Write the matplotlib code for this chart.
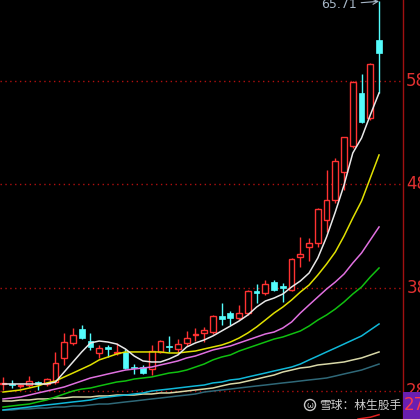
import matplotlib
matplotlib.use('Agg')
import matplotlib.pyplot as plt
from matplotlib.patches import Rectangle, Circle

plt.rcParams['font.family'] = ['DejaVu Sans']

# daily k-line
opens = [28.67, 28.67, 28.48, 28.57, 28.86, 28.67, 28.86, 31.19, 32.64, 33.99,
         32.83, 31.67, 32.25, 31.67, 31.77, 30.31, 30.31, 30.12, 31.77, 32.35,
         32.06, 32.64, 33.41, 33.61, 33.70, 35.25, 35.54, 35.06, 35.54, 37.67,
         37.48, 38.54, 38.16, 37.77, 40.96, 41.93, 42.32, 44.55, 46.48, 49.19,
         51.71, 56.84, 54.42, 61.97]
closes = [28.77, 28.57, 28.57, 28.96, 28.67, 29.15, 30.70, 32.73, 33.41, 33.12,
          32.25, 32.15, 32.06, 31.77, 30.22, 30.22, 29.73, 31.86, 32.83, 32.25,
          32.54, 33.12, 33.51, 33.90, 35.25, 34.96, 35.06, 35.54, 37.67, 37.48,
          38.35, 37.77, 37.96, 40.77, 41.25, 42.32, 45.61, 46.48, 50.26, 52.58,
          57.90, 54.03, 59.65, 60.71]
highs = [29.35, 29.06, 28.67, 29.44, 28.96, 29.25, 31.77, 33.61, 34.09, 34.38,
         33.61, 32.44, 32.44, 32.64, 32.06, 30.60, 30.51, 32.44, 32.93, 33.32,
         33.02, 33.80, 34.09, 34.19, 35.35, 36.51, 35.74, 36.32, 37.77, 38.35,
         38.74, 38.74, 38.45, 40.87, 42.90, 42.80, 45.71, 49.39, 50.55, 52.58,
         58.00, 58.68, 59.74, 65.71]
lows = [28.09, 28.28, 28.28, 28.38, 28.09, 28.48, 28.67, 30.51, 32.44, 33.02,
        31.96, 31.19, 31.28, 31.48, 30.12, 29.64, 29.64, 29.54, 31.67, 31.77,
        31.67, 32.35, 32.83, 32.73, 33.51, 34.38, 34.38, 34.86, 35.35, 36.51,
        37.28, 37.67, 36.61, 37.67, 39.99, 40.58, 41.93, 43.38, 46.19, 47.45,
        51.51, 53.93, 54.23, 56.84]

# moving averages
ma5 = [28.67, 28.67, 28.67, 28.67, 28.67, 28.67, 28.86, 29.83, 30.80, 31.77,
       32.64, 32.83, 32.73, 32.54, 32.06, 31.38, 30.90, 30.80, 30.80, 31.09,
       31.48, 32.25, 32.64, 32.93, 33.32, 33.80, 34.28, 34.77, 35.35, 36.12,
       36.70, 36.99, 37.38, 38.06, 38.64, 39.41, 40.87, 42.90, 45.32, 47.93,
       51.03, 52.48, 54.71, 56.84]
ma10 = [27.89, 27.99, 28.09, 28.28, 28.48, 28.77, 28.96, 29.35, 29.73, 30.12,
        30.51, 31.00, 31.28, 31.57, 31.77, 31.77, 31.77, 31.77, 31.77, 31.67,
        31.67, 31.77, 31.86, 32.06, 32.25, 32.44, 32.73, 33.12, 33.61, 34.19,
        34.86, 35.54, 36.12, 36.80, 37.57, 38.25, 39.22, 40.28, 41.45, 43.00,
        44.74, 46.38, 48.61, 50.84]
ma20 = [27.22, 27.31, 27.41, 27.60, 27.80, 27.99, 28.18, 28.38, 28.67, 28.96,
        29.25, 29.44, 29.64, 29.83, 30.02, 30.12, 30.22, 30.31, 30.51, 30.70,
        30.90, 31.19, 31.38, 31.67, 31.96, 32.15, 32.35, 32.64, 32.93, 33.22,
        33.51, 33.70, 34.09, 34.67, 35.54, 36.32, 37.09, 37.86, 38.54, 39.32,
        40.38, 41.35, 42.61, 43.87]
ma30 = [26.44, 26.54, 26.64, 26.73, 26.93, 27.12, 27.41, 27.70, 27.99, 28.18,
        28.28, 28.48, 28.67, 28.86, 28.96, 29.15, 29.25, 29.35, 29.54, 29.73,
        29.83, 30.02, 30.31, 30.60, 31.00, 31.28, 31.48, 31.86, 32.15, 32.44,
        32.73, 33.02, 33.22, 33.51, 33.80, 34.28, 34.86, 35.35, 35.93, 36.61,
        37.38, 38.06, 39.03, 39.90]
ma60 = [26.15, 26.25, 26.34, 26.44, 26.54, 26.64, 26.73, 26.83, 26.93, 27.02,
        27.12, 27.31, 27.41, 27.51, 27.60, 27.70, 27.80, 27.99, 28.09, 28.18,
        28.28, 28.38, 28.48, 28.57, 28.77, 28.86, 29.06, 29.15, 29.35, 29.54,
        29.73, 29.93, 30.12, 30.31, 30.60, 31.00, 31.38, 31.77, 32.15, 32.54,
        32.93, 33.32, 33.90, 34.48]
ma120 = [27.02, 27.02, 27.12, 27.12, 27.22, 27.22, 27.31, 27.31, 27.41, 27.41,
         27.41, 27.51, 27.51, 27.60, 27.60, 27.60, 27.70, 27.70, 27.80, 27.80,
         27.89, 27.99, 28.09, 28.18, 28.28, 28.48, 28.67, 28.77, 28.96, 29.15,
         29.35, 29.54, 29.83, 30.02, 30.22, 30.31, 30.51, 30.60, 30.70, 30.80,
         31.00, 31.19, 31.48, 31.77]
ma250 = [26.15, 26.15, 26.25, 26.25, 26.34, 26.34, 26.44, 26.44, 26.54, 26.54,
         26.64, 26.73, 26.73, 26.83, 26.93, 27.02, 27.12, 27.22, 27.31, 27.41,
         27.51, 27.60, 27.70, 27.89, 27.99, 28.09, 28.18, 28.28, 28.38, 28.48,
         28.57, 28.67, 28.77, 28.86, 28.96, 29.06, 29.15, 29.25, 29.44, 29.64,
         29.83, 30.02, 30.31, 30.60]
red_tail_x = [40.6, 42, 43]
red_tail = [25.28, 25.45, 25.70]

grid_levels = [58, 48, 38, 28]
peak_text = '65.71'
cursor_text = '27'

RED = '#ff3232'
CYAN = '#54fcfc'

fig = plt.figure(figsize=(4.2, 4.19), dpi=100, facecolor='black')
ax = fig.add_axes([0, 0, 403 / 420, 1])
ax.set_facecolor('black')
ax.set_xlim(-0.343, 45.74)
ax.set_ylim(25.28, 65.84)
ax.set_xticks([])
ax.set_yticks([])
for s in ['top', 'bottom', 'left']:
    ax.spines[s].set_visible(False)
ax.spines['right'].set_color('#a01010')
ax.spines['right'].set_linewidth(1.0)

for lv in grid_levels:
    ax.axhline(lv, color='#b01010', lw=1.0, ls=(0, (1, 2.5)), zorder=1)

# candles
w = 0.66
for i in range(len(opens)):
    o, c, h, l = opens[i], closes[i], highs[i], lows[i]
    top, bot = max(o, c), min(o, c)
    hgt = max(top - bot, 0.1)
    if c >= o:
        ax.vlines(i, top, h, color=RED, lw=1.0, zorder=2)
        ax.vlines(i, l, bot, color=RED, lw=1.0, zorder=2)
        ax.add_patch(Rectangle((i - w / 2, bot), w, hgt, facecolor='black',
                               edgecolor=RED, lw=1.0, zorder=2))
    else:
        ax.vlines(i, l, h, color=CYAN, lw=1.0, zorder=2)
        ax.add_patch(Rectangle((i - w / 2, bot), w, hgt, facecolor=CYAN,
                               edgecolor=CYAN, lw=0.5, zorder=2))

x = list(range(len(opens)))
ax.plot(x, ma250, color='#2f6878', lw=1.1, zorder=3)
ax.plot(x, ma120, color='#d8d8a8', lw=1.1, zorder=3)
ax.plot(x, ma60, color='#10b8d8', lw=1.1, zorder=3)
ax.plot(x, ma30, color='#10c010', lw=1.1, zorder=3)
ax.plot(x, ma20, color='#e070e0', lw=1.1, zorder=3)
ax.plot(x, ma10, color='#e0e000', lw=1.1, zorder=3)
ax.plot(x, ma5, color='#e8e8e8', lw=1.1, zorder=3)
ax.plot(red_tail_x, red_tail, color='#e02020', lw=1.1, zorder=3)

# peak label
ax.annotate(peak_text, xy=(len(opens) - 1, highs[-1]), xytext=(-22, -3),
            textcoords='offset pixels', ha='right', va='center',
            color='#a8b8c8', fontsize=9,
            arrowprops=dict(arrowstyle='->', color='#a8b8c8', lw=0.8,
                            shrinkA=1, shrinkB=0))

# right axis labels
for lv in grid_levels:
    ax.text(1.008, lv, str(lv), transform=ax.get_yaxis_transform(),
            color='#e03030', fontsize=12, ha='left', va='center', clip_on=False)

fig.patches.append(Rectangle((403 / 420, 0), 17 / 420, 27 / 419,
                             transform=fig.transFigure, facecolor='#6a1fb0',
                             edgecolor='none', zorder=5))
fig.text(404 / 420, 1 - 405 / 419, cursor_text, color='#ff3a4a', fontsize=12,
         ha='left', va='center', zorder=6)

# watermark
fig.patches.append(Circle((310 / 420, 1 - 405 / 419), 5.5 / 420,
                          transform=fig.transFigure, facecolor='none',
                          edgecolor='#c8c8c8', lw=1.0, zorder=5))
fig.text(310 / 420, 1 - 405 / 419, 'ω', color='#c8c8c8', fontsize=6,
         ha='center', va='center', zorder=6)
fig.text(319 / 420, 1 - 405 / 419, '雪球：林生股手', color='#d0d0d0',
         fontsize=8.5, ha='left', va='center', zorder=6,
         family=['Noto Sans CJK SC', 'DejaVu Sans'])

fig.savefig('out.png', dpi=100, facecolor='black')
